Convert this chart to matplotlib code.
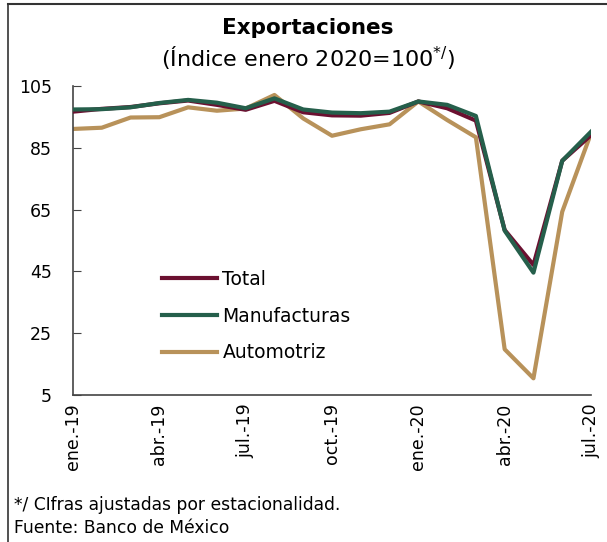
import matplotlib
matplotlib.use("Agg")
import matplotlib.pyplot as plt
from matplotlib.lines import Line2D

months = ["ene.-19", "feb.-19", "mar.-19", "abr.-19", "may.-19", "jun.-19", "jul.-19",
          "ago.-19", "sep.-19", "oct.-19", "nov.-19", "dic.-19", "ene.-20", "feb.-20",
          "mar.-20", "abr.-20", "may.-20", "jun.-20", "jul.-20"]
total = [96.7, 97.6, 98.2, 99.4, 100.3, 98.9, 97.3, 100.2, 96.5, 95.5, 95.4, 96.3,
         100.0, 97.8, 93.8, 58.4, 47.1, 80.8, 89.1]
manufacturas = [97.4, 97.5, 98.1, 99.5, 100.5, 99.6, 97.8, 101.0, 97.4, 96.4, 96.2, 96.7,
                100.0, 98.9, 95.3, 58.2, 44.6, 80.8, 90.2]
automotriz = [91.1, 91.5, 94.8, 94.9, 98.1, 97.0, 97.7, 102.1, 94.5, 88.9, 91.0, 92.6,
              100.0, 94.0, 88.4, 19.8, 10.4, 64.3, 89.7]
tick_idx = [0, 3, 6, 9, 12, 15, 18]
yticks = [5, 25, 45, 65, 85, 105]

plt.rcParams['font.family'] = ['DejaVu Sans']
fig = plt.figure(figsize=(6.07, 5.42), dpi=100)
W, H = 607, 542
ax = fig.add_axes([73 / W, 1 - 395 / H, (591 - 73) / W, (395 - 86) / H])

x = list(range(len(months)))
ax.plot(x, automotriz, color="#b8925a", lw=3, label="Automotriz", zorder=2)
ax.plot(x, total, color="#6b1030", lw=3, label="Total", zorder=3)
ax.plot(x, manufacturas, color="#255f4b", lw=3, label="Manufacturas", zorder=4)

ax.set_xlim(0, 18)
ax.set_ylim(5, 105)
ax.set_yticks(yticks)
ax.set_yticklabels([str(v) for v in yticks], fontsize=12.5)
ax.set_xticks(tick_idx)
ax.set_xticklabels([months[i] for i in tick_idx], rotation=90, fontsize=12.5)
ax.tick_params(axis='x', length=0, pad=6)
ax.tick_params(axis='y', direction='in', length=6, color="#444444", pad=15)
for s in ["top", "right"]:
    ax.spines[s].set_visible(False)
for s in ["left", "bottom"]:
    ax.spines[s].set_color("#444444")
    ax.spines[s].set_linewidth(1.2)

handles, labels = ax.get_legend_handles_labels()
order = [1, 2, 0]
ax.legend([handles[i] for i in order], [labels[i] for i in order],
          loc="upper left", bbox_to_anchor=(0.14, 0.46), frameon=False,
          fontsize=13.5, handlelength=2.9, handletextpad=0.3, labelspacing=0.95)

fig.text(308 / W, 1 - 28 / H, "Exportaciones", ha="center", va="center",
         fontsize=15.5, fontweight="bold")
fig.text(308 / W, 1 - 58 / H, "(Índice enero 2020=100$^{*/}$)", ha="center", va="center",
         fontsize=16)
fig.text(14 / W, 1 - 505 / H, "*/ CIfras ajustadas por estacionalidad.", ha="left",
         va="center", fontsize=12.3)
fig.text(14 / W, 1 - 528 / H, "Fuente: Banco de México", ha="left", va="center",
         fontsize=12.3)

fig.add_artist(Line2D([8 / W, 1], [1 - 4 / H, 1 - 4 / H], color="#333333", lw=1.5,
                      transform=fig.transFigure))
fig.add_artist(Line2D([8 / W, 8 / W], [1 - 4 / H, 0], color="#333333", lw=1.2,
                      transform=fig.transFigure))

fig.savefig("out.png", dpi=100)
